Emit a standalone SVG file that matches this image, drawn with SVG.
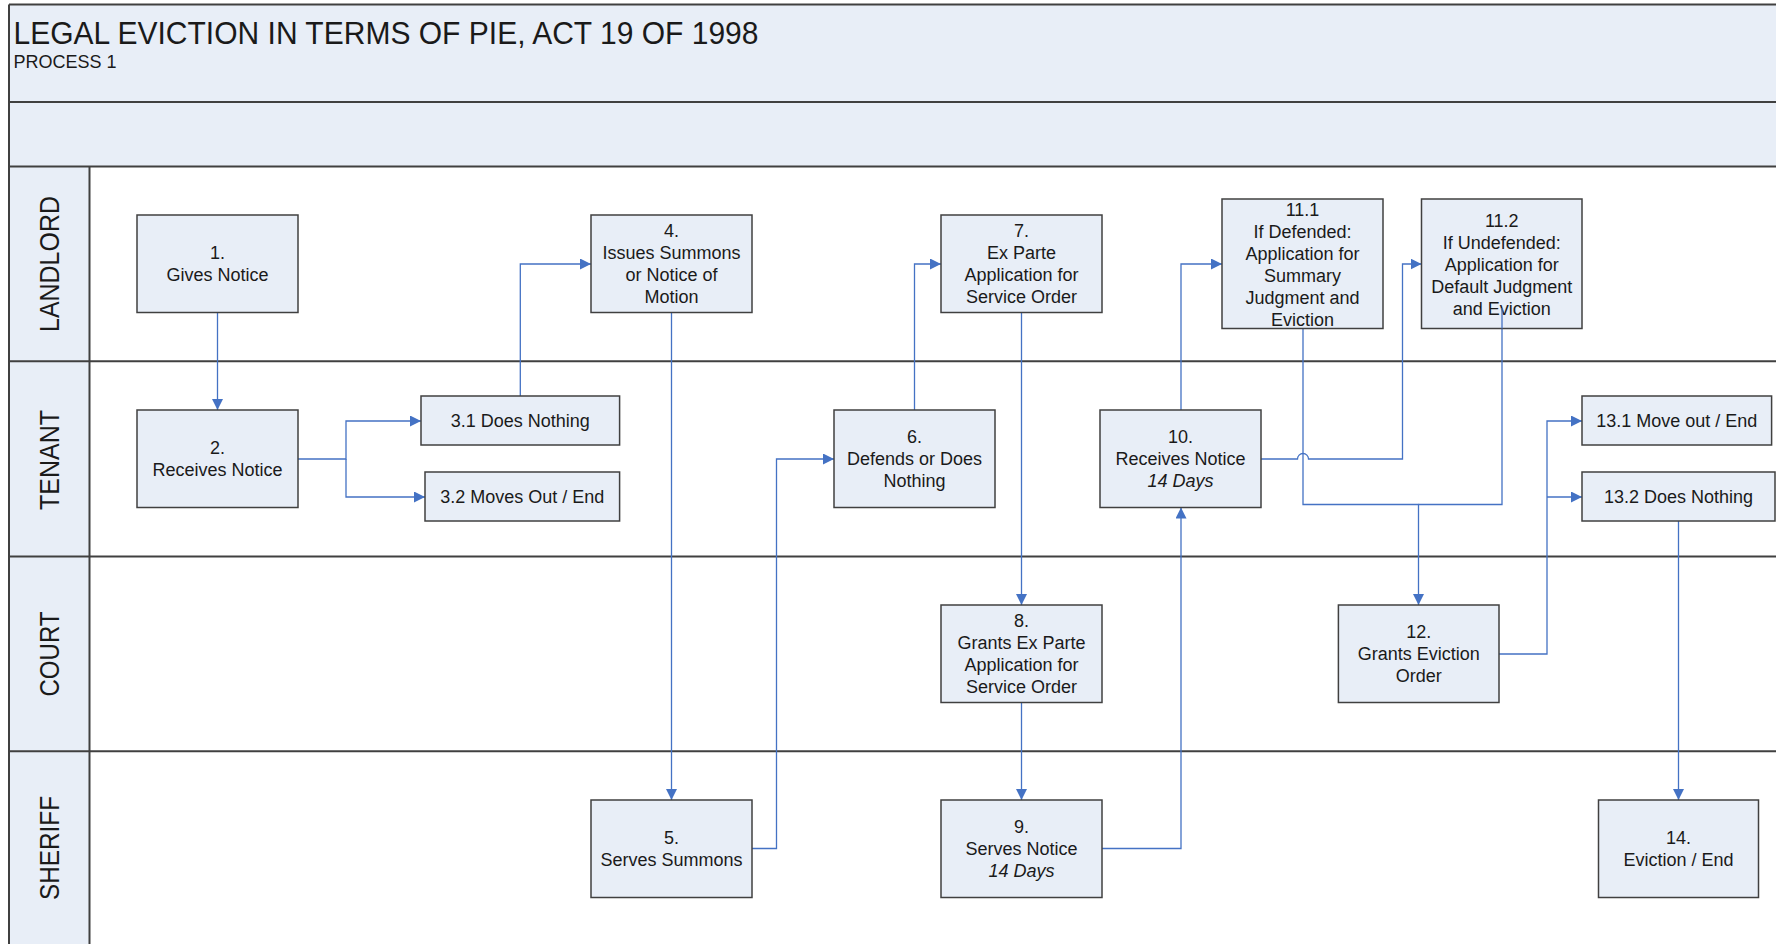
<svg xmlns="http://www.w3.org/2000/svg" width="1776" height="944" viewBox="0 0 1776 944">
<style>
.bg{fill:#E8EEF7}
.ln{stroke:#404040;stroke-width:2;fill:none}
.box{fill:#E8EEF7;stroke:#404040;stroke-width:1.5}
.t{font-family:"Liberation Sans",Arial,sans-serif;font-size:18px;fill:#1a1a1a;text-anchor:middle}
.i{font-style:italic}
.lane{font-family:"Liberation Sans",Arial,sans-serif;font-size:28px;fill:#1a1a1a;text-anchor:middle}
.c{stroke:#4472C4;stroke-width:1.3;fill:none}
</style>
<defs>
<marker id="arr" markerWidth="11" markerHeight="11" refX="11" refY="5.5" orient="auto" markerUnits="userSpaceOnUse">
<path d="M0,0 L11,5.5 L0,11 z" fill="#4472C4"/>
</marker>
</defs>
<rect x="0" y="0" width="1776" height="944" fill="#ffffff"/>
<g id="frame">
<rect class="bg" x="9" y="4.5" width="1767" height="162"/>
<rect class="bg" x="9" y="166.5" width="80.5" height="778"/>
<path class="ln" d="M9,4.5 H1776 M9,4.5 V944 M9,102 H1776 M9,166.5 H1776 M9,361.3 H1776 M9,556.5 H1776 M9,751.3 H1776 M89.5,166.5 V944"/>
<text x="13.5" y="44" font-family="'Liberation Sans',Arial,sans-serif" font-size="31" fill="#1a1a1a" textLength="745" lengthAdjust="spacingAndGlyphs">LEGAL EVICTION IN TERMS OF PIE, ACT 19 OF 1998</text>
<text x="13.5" y="68" font-family="'Liberation Sans',Arial,sans-serif" font-size="18" fill="#1a1a1a">PROCESS 1</text>
</g>
<g id="lanes">
<text class="lane" transform="translate(59,264) rotate(-90)" textLength="136" lengthAdjust="spacingAndGlyphs">LANDLORD</text>
<text class="lane" transform="translate(59,460) rotate(-90)" textLength="100" lengthAdjust="spacingAndGlyphs">TENANT</text>
<text class="lane" transform="translate(59,654) rotate(-90)" textLength="85" lengthAdjust="spacingAndGlyphs">COURT</text>
<text class="lane" transform="translate(59,848) rotate(-90)" textLength="104" lengthAdjust="spacingAndGlyphs">SHERIFF</text>
</g>
<g id="connectors">
<path class="c" d="M217.5,312.6 V410" marker-end="url(#arr)"/>
<path class="c" d="M298,459 H346 V421 H421" marker-end="url(#arr)"/>
<path class="c" d="M346,459 V497 H425" marker-end="url(#arr)"/>
<path class="c" d="M520.3,396 V264 H591" marker-end="url(#arr)"/>
<path class="c" d="M671.5,312.6 V800" marker-end="url(#arr)"/>
<path class="c" d="M752,848.5 H776.5 V459 H834" marker-end="url(#arr)"/>
<path class="c" d="M914.5,410 V264 H941" marker-end="url(#arr)"/>
<path class="c" d="M1021.5,312.6 V605" marker-end="url(#arr)"/>
<path class="c" d="M1021.5,702 V800" marker-end="url(#arr)"/>
<path class="c" d="M1102,848.5 H1181 V507.5" marker-end="url(#arr)"/>
<path class="c" d="M1181,410 V264 H1222" marker-end="url(#arr)"/>
<path class="c" d="M1261,459 H1297.5 A5.5,5.5 0 0 1 1308.5,459 H1402.5 V264 H1421.5" marker-end="url(#arr)"/>
<path class="c" d="M1303,328.5 V504.5 H1418.5 V605" marker-end="url(#arr)"/>
<path class="c" d="M1502,308 V504.5 H1418.5"/>
<path class="c" d="M1498.6,654 H1547 V421 H1582" marker-end="url(#arr)"/>
<path class="c" d="M1547,497 H1582" marker-end="url(#arr)"/>
<path class="c" d="M1678.5,521 V800" marker-end="url(#arr)"/>
</g>
<g id="n1"><rect class="box" x="137" y="215" width="161" height="97.5"/><text class="t" x="217.5" y="259.3">1.</text><text class="t" x="217.5" y="281.3">Gives Notice</text></g>
<g id="n2"><rect class="box" x="137" y="410" width="161" height="97.5"/><text class="t" x="217.5" y="454.2">2.</text><text class="t" x="217.5" y="476.2">Receives Notice</text></g>
<g id="n3_1"><rect class="box" x="421" y="396" width="198.6" height="49"/><text class="t" x="520.3" y="427">3.1 Does Nothing</text></g>
<g id="n3_2"><rect class="box" x="425" y="472" width="194.6" height="49"/><text class="t" x="522.3" y="503">3.2 Moves Out / End</text></g>
<g id="n4"><rect class="box" x="591" y="215" width="161" height="97.5"/><text class="t" x="671.5" y="237.3">4.</text><text class="t" x="671.5" y="259.3">Issues Summons</text><text class="t" x="671.5" y="281.3">or Notice of</text><text class="t" x="671.5" y="303.3">Motion</text></g>
<g id="n5"><rect class="box" x="591" y="800" width="161" height="97.5"/><text class="t" x="671.5" y="844">5.</text><text class="t" x="671.5" y="866">Serves Summons</text></g>
<g id="n6"><rect class="box" x="834" y="410" width="161" height="97.5"/><text class="t" x="914.5" y="443.2">6.</text><text class="t" x="914.5" y="465.2">Defends or Does</text><text class="t" x="914.5" y="487.2">Nothing</text></g>
<g id="n7"><rect class="box" x="941" y="215" width="161" height="97.5"/><text class="t" x="1021.5" y="237.3">7.</text><text class="t" x="1021.5" y="259.3">Ex Parte</text><text class="t" x="1021.5" y="281.3">Application for</text><text class="t" x="1021.5" y="303.3">Service Order</text></g>
<g id="n8"><rect class="box" x="941" y="605" width="161" height="97.5"/><text class="t" x="1021.5" y="627">8.</text><text class="t" x="1021.5" y="649">Grants Ex Parte</text><text class="t" x="1021.5" y="671">Application for</text><text class="t" x="1021.5" y="693">Service Order</text></g>
<g id="n9"><rect class="box" x="941" y="800" width="161" height="97.5"/><text class="t" x="1021.5" y="833">9.</text><text class="t" x="1021.5" y="855">Serves Notice</text><text class="t i" x="1021.5" y="877">14 Days</text></g>
<g id="n10"><rect class="box" x="1100" y="410" width="161" height="97.5"/><text class="t" x="1180.5" y="443.2">10.</text><text class="t" x="1180.5" y="465.2">Receives Notice</text><text class="t i" x="1180.5" y="487.2">14 Days</text></g>
<g id="n11_1"><rect class="box" x="1222" y="199" width="161" height="129.5"/><text class="t" x="1302.5" y="215.5">11.1</text><text class="t" x="1302.5" y="237.5">If Defended:</text><text class="t" x="1302.5" y="259.5">Application for</text><text class="t" x="1302.5" y="281.5">Summary</text><text class="t" x="1302.5" y="303.5">Judgment and</text><text class="t" x="1302.5" y="325.5">Eviction</text></g>
<g id="n11_2"><rect class="box" x="1421.5" y="199" width="160.5" height="129.5"/><text class="t" x="1501.8" y="226.5">11.2</text><text class="t" x="1501.8" y="248.5">If Undefended:</text><text class="t" x="1501.8" y="270.5">Application for</text><text class="t" x="1501.8" y="292.5">Default Judgment</text><text class="t" x="1501.8" y="314.5">and Eviction</text></g>
<path class="c" d="M1502,308 V328.5"/>
<g id="n12"><rect class="box" x="1338.4" y="605" width="160.6" height="97.5"/><text class="t" x="1418.7" y="638">12.</text><text class="t" x="1418.7" y="660">Grants Eviction</text><text class="t" x="1418.7" y="682">Order</text></g>
<g id="n13_1"><rect class="box" x="1582" y="396" width="189.6" height="49"/><text class="t" x="1676.8" y="427">13.1 Move out / End</text></g>
<g id="n13_2"><rect class="box" x="1582" y="472" width="193" height="49"/><text class="t" x="1678.5" y="503">13.2 Does Nothing</text></g>
<g id="n14"><rect class="box" x="1598.5" y="800" width="160" height="97.5"/><text class="t" x="1678.5" y="844">14.</text><text class="t" x="1678.5" y="866">Eviction / End</text></g>
</svg>
